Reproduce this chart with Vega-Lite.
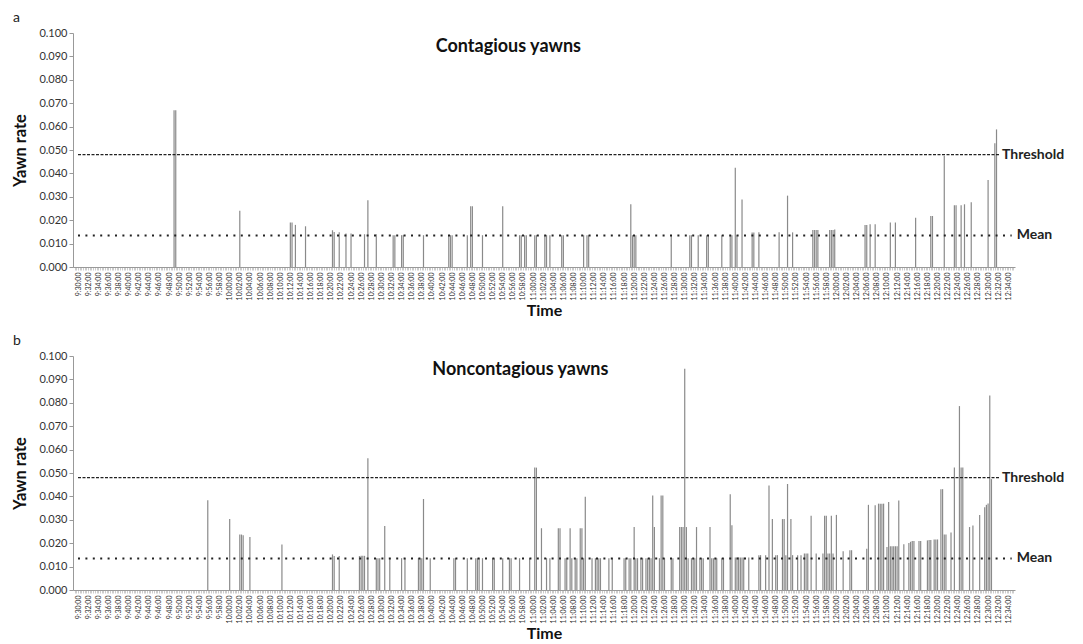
{
 "$schema": "https://vega.github.io/schema/vega-lite/v6.json",
 "padding": {"left": 12, "top": 11, "right": 3, "bottom": 0},
 "config": {"font": "Lato", "view": {"stroke": null}, "concat": {"spacing": 15},
  "axisX": {"tickCount": 553, "labelExpr": "datum.value % 120 == 0 ? floor((34200 + datum.value) / 3600) + ':' + (floor(((34200 + datum.value) % 3600) / 60) < 10 ? '0' : '') + floor(((34200 + datum.value) % 3600) / 60) + ':00' : ''", "labelAngle": 270, "labelFontSize": 7, "labelOverlap": false, "labelFlush": false, "labelBound": false, "labelPadding": 2, "labelColor": "#333", "tickSize": 3, "tickColor": "#999", "tickWidth": 0.5, "domainColor": "#999", "grid": false, "titleFontSize": 16, "titleFontWeight": "bold", "titlePadding": 3, "titleColor": "#111"},
  "axisY": {"labelOverlap": false, "labelSeparation": 0, "values": [0, 0.01, 0.02, 0.03, 0.04, 0.05, 0.06, 0.07, 0.08, 0.09, 0.1], "format": ".3f", "labelFontSize": 11, "labelColor": "#333", "titleFontSize": 16.5, "titleFontWeight": "bold", "titlePadding": 10, "titleColor": "#111", "grid": false, "domainColor": "#999", "tickColor": "#999", "tickSize": 4}
 },
 "vconcat": [
  {
   "title": {"text": "a", "anchor": "start", "frame": "bounds", "fontSize": 14, "fontWeight": "normal", "offset": 2, "color": "#222"},
   "width": 942, "height": 234,
   "layer": [
    {
     "data": {"values": [
      {"sec": 1140, "rate": 0.067}, {"sec": 1160, "rate": 0.067}, {"sec": 1920, "rate": 0.024}, {"sec": 2520, "rate": 0.019},
      {"sec": 2540, "rate": 0.019}, {"sec": 2580, "rate": 0.018}, {"sec": 2700, "rate": 0.0174}, {"sec": 3020, "rate": 0.0157},
      {"sec": 3040, "rate": 0.015}, {"sec": 3100, "rate": 0.0148}, {"sec": 3180, "rate": 0.0143}, {"sec": 3240, "rate": 0.0143},
      {"sec": 3400, "rate": 0.014}, {"sec": 3440, "rate": 0.0285}, {"sec": 3540, "rate": 0.014}, {"sec": 3740, "rate": 0.0136},
      {"sec": 3760, "rate": 0.0136}, {"sec": 3840, "rate": 0.0136}, {"sec": 3860, "rate": 0.0136}, {"sec": 4100, "rate": 0.0136},
      {"sec": 4400, "rate": 0.0136}, {"sec": 4420, "rate": 0.0136}, {"sec": 4440, "rate": 0.0136}, {"sec": 4620, "rate": 0.0136},
      {"sec": 4660, "rate": 0.026}, {"sec": 4680, "rate": 0.026}, {"sec": 4800, "rate": 0.0136}, {"sec": 5040, "rate": 0.026},
      {"sec": 5240, "rate": 0.0136}, {"sec": 5260, "rate": 0.0136}, {"sec": 5300, "rate": 0.0136}, {"sec": 5320, "rate": 0.0136},
      {"sec": 5420, "rate": 0.0136}, {"sec": 5440, "rate": 0.0136}, {"sec": 5540, "rate": 0.0136}, {"sec": 5560, "rate": 0.0136},
      {"sec": 5600, "rate": 0.0136}, {"sec": 5740, "rate": 0.0136}, {"sec": 5760, "rate": 0.0136}, {"sec": 6000, "rate": 0.0136},
      {"sec": 6040, "rate": 0.0136}, {"sec": 6060, "rate": 0.0136}, {"sec": 6560, "rate": 0.0268}, {"sec": 6580, "rate": 0.0136},
      {"sec": 6600, "rate": 0.0136}, {"sec": 6620, "rate": 0.0136}, {"sec": 7040, "rate": 0.0136}, {"sec": 7260, "rate": 0.0136},
      {"sec": 7280, "rate": 0.0136}, {"sec": 7360, "rate": 0.0136}, {"sec": 7460, "rate": 0.0136}, {"sec": 7480, "rate": 0.0136},
      {"sec": 7640, "rate": 0.0136}, {"sec": 7740, "rate": 0.0136}, {"sec": 7760, "rate": 0.0136}, {"sec": 7800, "rate": 0.0424},
      {"sec": 7820, "rate": 0.0136}, {"sec": 7880, "rate": 0.0288}, {"sec": 8000, "rate": 0.0147}, {"sec": 8020, "rate": 0.0147},
      {"sec": 8080, "rate": 0.0148}, {"sec": 8320, "rate": 0.0148}, {"sec": 8420, "rate": 0.0305}, {"sec": 8480, "rate": 0.0148},
      {"sec": 8720, "rate": 0.0158}, {"sec": 8740, "rate": 0.0158}, {"sec": 8760, "rate": 0.0158}, {"sec": 8780, "rate": 0.0158},
      {"sec": 8920, "rate": 0.0158}, {"sec": 8940, "rate": 0.0158}, {"sec": 8960, "rate": 0.0158}, {"sec": 8980, "rate": 0.016},
      {"sec": 9340, "rate": 0.018}, {"sec": 9360, "rate": 0.018}, {"sec": 9400, "rate": 0.0183}, {"sec": 9460, "rate": 0.0183},
      {"sec": 9640, "rate": 0.019}, {"sec": 9700, "rate": 0.019}, {"sec": 9940, "rate": 0.0211}, {"sec": 10120, "rate": 0.0218},
      {"sec": 10140, "rate": 0.0218}, {"sec": 10280, "rate": 0.0475}, {"sec": 10400, "rate": 0.0264}, {"sec": 10420, "rate": 0.0264},
      {"sec": 10480, "rate": 0.0264}, {"sec": 10520, "rate": 0.0268}, {"sec": 10600, "rate": 0.0277}, {"sec": 10800, "rate": 0.0372},
      {"sec": 10880, "rate": 0.0529}, {"sec": 10900, "rate": 0.0588}
     ]},
     "mark": {"type": "bar", "size": 1.2, "color": "#8a8a8a"},
     "encoding": {
      "x": {"field": "sec", "type": "quantitative", "title": "Time", "scale": {"domain": [0, 11060], "nice": false, "zero": false}},
      "y": {"field": "rate", "type": "quantitative", "title": "Yawn rate", "scale": {"domain": [0, 0.1], "nice": false},
       "axis": {"values": [0, 0.01, 0.02, 0.03, 0.04, 0.05, 0.06, 0.07, 0.08, 0.09, 0.1], "format": ".3f", "labelOverlap": false}}
     }
    },
    {
     "data": {"values": [{}]},
     "mark": {"type": "rule", "strokeDash": [3, 1.5], "strokeWidth": 1.2, "color": "#222"},
     "encoding": {"x": {"datum": 0, "type": "quantitative"}, "x2": {"datum": 10940}, "y": {"datum": 0.048, "type": "quantitative", "axis": {"values": [0, 0.01, 0.02, 0.03, 0.04, 0.05, 0.06, 0.07, 0.08, 0.09, 0.1], "format": ".3f", "labelOverlap": false}}}
    },
    {
     "data": {"values": [{}]},
     "mark": {"type": "rule", "strokeDash": [2, 5.4], "strokeWidth": 2, "color": "#222"},
     "encoding": {"x": {"datum": 0, "type": "quantitative"}, "x2": {"datum": 11080}, "y": {"datum": 0.0135, "type": "quantitative", "axis": {"values": [0, 0.01, 0.02, 0.03, 0.04, 0.05, 0.06, 0.07, 0.08, 0.09, 0.1], "format": ".3f", "labelOverlap": false}}}
    },
    {
     "data": {"values": [{}]},
     "mark": {"type": "text", "align": "left", "baseline": "middle", "fontSize": 14, "fontWeight": "bold", "color": "#222"},
     "encoding": {"x": {"datum": 10965, "type": "quantitative"}, "y": {"datum": 0.048, "type": "quantitative", "axis": {"values": [0, 0.01, 0.02, 0.03, 0.04, 0.05, 0.06, 0.07, 0.08, 0.09, 0.1], "format": ".3f", "labelOverlap": false}}, "text": {"value": "Threshold"}}
    },
    {
     "data": {"values": [{}]},
     "mark": {"type": "text", "align": "left", "baseline": "middle", "fontSize": 14, "fontWeight": "bold", "color": "#222"},
     "encoding": {"x": {"datum": 11140, "type": "quantitative"}, "y": {"datum": 0.0135, "type": "quantitative", "axis": {"values": [0, 0.01, 0.02, 0.03, 0.04, 0.05, 0.06, 0.07, 0.08, 0.09, 0.1], "format": ".3f", "labelOverlap": false}}, "text": {"value": "Mean"}}
    },
    {
     "data": {"values": [{}]},
     "mark": {"type": "text", "align": "center", "baseline": "middle", "fontSize": 18, "fontWeight": "bold", "color": "#111"},
     "encoding": {"x": {"datum": 5107, "type": "quantitative"}, "y": {"datum": 0.094, "type": "quantitative", "axis": {"values": [0, 0.01, 0.02, 0.03, 0.04, 0.05, 0.06, 0.07, 0.08, 0.09, 0.1], "format": ".3f", "labelOverlap": false}}, "text": {"value": "Contagious yawns"}}
    }
   ]
  },
  {
   "title": {"text": "b", "anchor": "start", "frame": "bounds", "fontSize": 14, "fontWeight": "normal", "offset": 2, "color": "#222"},
   "width": 942, "height": 234,
   "layer": [
    {
     "data": {"values": [
      {"sec": 1540, "rate": 0.0384}, {"sec": 1800, "rate": 0.0303}, {"sec": 1920, "rate": 0.0237}, {"sec": 1940, "rate": 0.0237},
      {"sec": 1960, "rate": 0.0234}, {"sec": 2040, "rate": 0.0226}, {"sec": 2420, "rate": 0.0194}, {"sec": 3020, "rate": 0.0152},
      {"sec": 3040, "rate": 0.0145}, {"sec": 3100, "rate": 0.0145}, {"sec": 3340, "rate": 0.0145}, {"sec": 3360, "rate": 0.0146},
      {"sec": 3380, "rate": 0.0146}, {"sec": 3400, "rate": 0.0146}, {"sec": 3440, "rate": 0.0563}, {"sec": 3540, "rate": 0.0136},
      {"sec": 3560, "rate": 0.0136}, {"sec": 3580, "rate": 0.0136}, {"sec": 3640, "rate": 0.0273}, {"sec": 3700, "rate": 0.0136},
      {"sec": 3840, "rate": 0.0136}, {"sec": 3880, "rate": 0.0136}, {"sec": 4040, "rate": 0.0136}, {"sec": 4060, "rate": 0.0136},
      {"sec": 4080, "rate": 0.0136}, {"sec": 4100, "rate": 0.0389}, {"sec": 4180, "rate": 0.0136}, {"sec": 4460, "rate": 0.0136},
      {"sec": 4480, "rate": 0.0136}, {"sec": 4620, "rate": 0.0136}, {"sec": 4720, "rate": 0.0136}, {"sec": 4740, "rate": 0.0136},
      {"sec": 4760, "rate": 0.0136}, {"sec": 4800, "rate": 0.0136}, {"sec": 4920, "rate": 0.0136}, {"sec": 4940, "rate": 0.0136},
      {"sec": 5040, "rate": 0.0136}, {"sec": 5120, "rate": 0.0136}, {"sec": 5140, "rate": 0.0136}, {"sec": 5240, "rate": 0.0136},
      {"sec": 5360, "rate": 0.0136}, {"sec": 5420, "rate": 0.0523}, {"sec": 5440, "rate": 0.0523}, {"sec": 5500, "rate": 0.0264},
      {"sec": 5560, "rate": 0.0136}, {"sec": 5600, "rate": 0.0136}, {"sec": 5700, "rate": 0.0264}, {"sec": 5720, "rate": 0.0264},
      {"sec": 5780, "rate": 0.0136}, {"sec": 5800, "rate": 0.0136}, {"sec": 5840, "rate": 0.0264}, {"sec": 5860, "rate": 0.0136},
      {"sec": 5900, "rate": 0.0136}, {"sec": 5920, "rate": 0.0136}, {"sec": 5960, "rate": 0.0264}, {"sec": 5980, "rate": 0.0264},
      {"sec": 6000, "rate": 0.0136}, {"sec": 6020, "rate": 0.0398}, {"sec": 6100, "rate": 0.0136}, {"sec": 6140, "rate": 0.0136},
      {"sec": 6160, "rate": 0.0136}, {"sec": 6180, "rate": 0.0136}, {"sec": 6200, "rate": 0.0136}, {"sec": 6300, "rate": 0.0136},
      {"sec": 6340, "rate": 0.0136}, {"sec": 6480, "rate": 0.0136}, {"sec": 6500, "rate": 0.0136}, {"sec": 6540, "rate": 0.0136},
      {"sec": 6560, "rate": 0.0136}, {"sec": 6600, "rate": 0.0269}, {"sec": 6620, "rate": 0.0136}, {"sec": 6640, "rate": 0.0136},
      {"sec": 6680, "rate": 0.0136}, {"sec": 6700, "rate": 0.0136}, {"sec": 6740, "rate": 0.0136}, {"sec": 6760, "rate": 0.0136},
      {"sec": 6780, "rate": 0.0136}, {"sec": 6800, "rate": 0.0136}, {"sec": 6820, "rate": 0.0404}, {"sec": 6840, "rate": 0.0269},
      {"sec": 6900, "rate": 0.0136}, {"sec": 6920, "rate": 0.0404}, {"sec": 6940, "rate": 0.0404}, {"sec": 6960, "rate": 0.0136},
      {"sec": 7040, "rate": 0.0136}, {"sec": 7060, "rate": 0.0136}, {"sec": 7140, "rate": 0.0269}, {"sec": 7160, "rate": 0.0269},
      {"sec": 7180, "rate": 0.0269}, {"sec": 7200, "rate": 0.0945}, {"sec": 7220, "rate": 0.0269}, {"sec": 7240, "rate": 0.0136},
      {"sec": 7280, "rate": 0.0136}, {"sec": 7300, "rate": 0.0136}, {"sec": 7320, "rate": 0.0136}, {"sec": 7340, "rate": 0.0269},
      {"sec": 7380, "rate": 0.0136}, {"sec": 7400, "rate": 0.0136}, {"sec": 7420, "rate": 0.0136}, {"sec": 7500, "rate": 0.0269},
      {"sec": 7520, "rate": 0.0136}, {"sec": 7540, "rate": 0.0136}, {"sec": 7560, "rate": 0.0136}, {"sec": 7580, "rate": 0.0136},
      {"sec": 7640, "rate": 0.0136}, {"sec": 7660, "rate": 0.0136}, {"sec": 7740, "rate": 0.0409}, {"sec": 7760, "rate": 0.0277},
      {"sec": 7800, "rate": 0.0139}, {"sec": 7820, "rate": 0.0139}, {"sec": 7840, "rate": 0.0139}, {"sec": 7860, "rate": 0.0139},
      {"sec": 7880, "rate": 0.0139}, {"sec": 7900, "rate": 0.0139}, {"sec": 7960, "rate": 0.0139}, {"sec": 8080, "rate": 0.0149},
      {"sec": 8100, "rate": 0.0149}, {"sec": 8160, "rate": 0.0149}, {"sec": 8200, "rate": 0.0447}, {"sec": 8240, "rate": 0.0303},
      {"sec": 8280, "rate": 0.0149}, {"sec": 8300, "rate": 0.0149}, {"sec": 8360, "rate": 0.0303}, {"sec": 8380, "rate": 0.0303},
      {"sec": 8400, "rate": 0.0149}, {"sec": 8420, "rate": 0.0453}, {"sec": 8460, "rate": 0.0303}, {"sec": 8480, "rate": 0.0149},
      {"sec": 8540, "rate": 0.0149}, {"sec": 8580, "rate": 0.0149}, {"sec": 8620, "rate": 0.0156}, {"sec": 8640, "rate": 0.0156},
      {"sec": 8660, "rate": 0.0156}, {"sec": 8700, "rate": 0.0317}, {"sec": 8760, "rate": 0.0156}, {"sec": 8840, "rate": 0.0156},
      {"sec": 8860, "rate": 0.0317}, {"sec": 8880, "rate": 0.0317}, {"sec": 8900, "rate": 0.0156}, {"sec": 8920, "rate": 0.0156},
      {"sec": 8940, "rate": 0.0317}, {"sec": 8960, "rate": 0.0156}, {"sec": 9000, "rate": 0.0321}, {"sec": 9080, "rate": 0.0166},
      {"sec": 9160, "rate": 0.017}, {"sec": 9180, "rate": 0.017}, {"sec": 9360, "rate": 0.0176}, {"sec": 9380, "rate": 0.0364},
      {"sec": 9460, "rate": 0.0362}, {"sec": 9500, "rate": 0.0369}, {"sec": 9520, "rate": 0.0369}, {"sec": 9540, "rate": 0.0369},
      {"sec": 9560, "rate": 0.0369}, {"sec": 9600, "rate": 0.0184}, {"sec": 9620, "rate": 0.0376}, {"sec": 9640, "rate": 0.0187},
      {"sec": 9660, "rate": 0.0187}, {"sec": 9680, "rate": 0.0187}, {"sec": 9700, "rate": 0.0187}, {"sec": 9720, "rate": 0.0187},
      {"sec": 9740, "rate": 0.0383}, {"sec": 9800, "rate": 0.0196}, {"sec": 9860, "rate": 0.0201}, {"sec": 9880, "rate": 0.0206},
      {"sec": 9900, "rate": 0.0209}, {"sec": 9920, "rate": 0.0209}, {"sec": 9980, "rate": 0.0209}, {"sec": 10000, "rate": 0.0209},
      {"sec": 10080, "rate": 0.0212}, {"sec": 10100, "rate": 0.0214}, {"sec": 10120, "rate": 0.0214}, {"sec": 10160, "rate": 0.0216},
      {"sec": 10180, "rate": 0.0216}, {"sec": 10200, "rate": 0.0216}, {"sec": 10240, "rate": 0.0431}, {"sec": 10260, "rate": 0.0431},
      {"sec": 10280, "rate": 0.0237}, {"sec": 10300, "rate": 0.0237}, {"sec": 10360, "rate": 0.0246}, {"sec": 10400, "rate": 0.0523},
      {"sec": 10460, "rate": 0.0786}, {"sec": 10480, "rate": 0.0523}, {"sec": 10500, "rate": 0.0523}, {"sec": 10580, "rate": 0.0269},
      {"sec": 10620, "rate": 0.0276}, {"sec": 10700, "rate": 0.0321}, {"sec": 10760, "rate": 0.0354}, {"sec": 10780, "rate": 0.0364},
      {"sec": 10800, "rate": 0.037}, {"sec": 10820, "rate": 0.0831}, {"sec": 10840, "rate": 0.0474}
     ]},
     "mark": {"type": "bar", "size": 1.2, "color": "#8a8a8a"},
     "encoding": {
      "x": {"field": "sec", "type": "quantitative", "title": "Time", "scale": {"domain": [0, 11060], "nice": false, "zero": false}},
      "y": {"field": "rate", "type": "quantitative", "title": "Yawn rate", "scale": {"domain": [0, 0.1], "nice": false},
       "axis": {"values": [0, 0.01, 0.02, 0.03, 0.04, 0.05, 0.06, 0.07, 0.08, 0.09, 0.1], "format": ".3f", "labelOverlap": false}}
     }
    },
    {
     "data": {"values": [{}]},
     "mark": {"type": "rule", "strokeDash": [3, 1.5], "strokeWidth": 1.2, "color": "#222"},
     "encoding": {"x": {"datum": 0, "type": "quantitative"}, "x2": {"datum": 10940}, "y": {"datum": 0.048, "type": "quantitative", "axis": {"values": [0, 0.01, 0.02, 0.03, 0.04, 0.05, 0.06, 0.07, 0.08, 0.09, 0.1], "format": ".3f", "labelOverlap": false}}}
    },
    {
     "data": {"values": [{}]},
     "mark": {"type": "rule", "strokeDash": [2, 5.4], "strokeWidth": 2, "color": "#222"},
     "encoding": {"x": {"datum": 0, "type": "quantitative"}, "x2": {"datum": 11080}, "y": {"datum": 0.0135, "type": "quantitative", "axis": {"values": [0, 0.01, 0.02, 0.03, 0.04, 0.05, 0.06, 0.07, 0.08, 0.09, 0.1], "format": ".3f", "labelOverlap": false}}}
    },
    {
     "data": {"values": [{}]},
     "mark": {"type": "text", "align": "left", "baseline": "middle", "fontSize": 14, "fontWeight": "bold", "color": "#222"},
     "encoding": {"x": {"datum": 10965, "type": "quantitative"}, "y": {"datum": 0.048, "type": "quantitative", "axis": {"values": [0, 0.01, 0.02, 0.03, 0.04, 0.05, 0.06, 0.07, 0.08, 0.09, 0.1], "format": ".3f", "labelOverlap": false}}, "text": {"value": "Threshold"}}
    },
    {
     "data": {"values": [{}]},
     "mark": {"type": "text", "align": "left", "baseline": "middle", "fontSize": 14, "fontWeight": "bold", "color": "#222"},
     "encoding": {"x": {"datum": 11140, "type": "quantitative"}, "y": {"datum": 0.0135, "type": "quantitative", "axis": {"values": [0, 0.01, 0.02, 0.03, 0.04, 0.05, 0.06, 0.07, 0.08, 0.09, 0.1], "format": ".3f", "labelOverlap": false}}, "text": {"value": "Mean"}}
    },
    {
     "data": {"values": [{}]},
     "mark": {"type": "text", "align": "center", "baseline": "middle", "fontSize": 18, "fontWeight": "bold", "color": "#111"},
     "encoding": {"x": {"datum": 5250, "type": "quantitative"}, "y": {"datum": 0.0941, "type": "quantitative", "axis": {"values": [0, 0.01, 0.02, 0.03, 0.04, 0.05, 0.06, 0.07, 0.08, 0.09, 0.1], "format": ".3f", "labelOverlap": false}}, "text": {"value": "Noncontagious yawns"}}
    }
   ]
  }
 ]
}
